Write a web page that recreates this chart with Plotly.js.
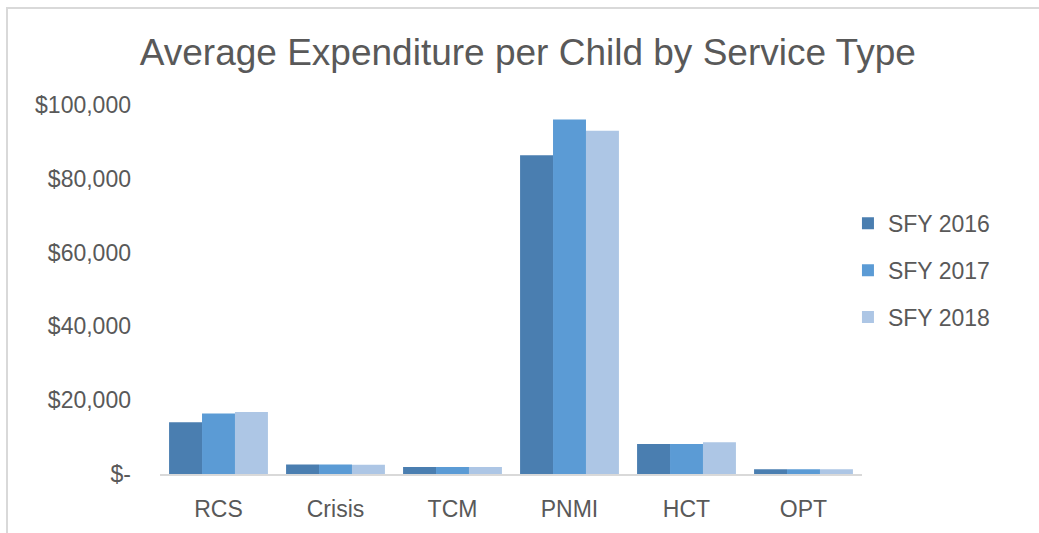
<!DOCTYPE html>
<html>
<head>
<meta charset="utf-8">
<script src="https://cdn.plot.ly/plotly-3.0.1.min.js"></script>
<style>
  html, body { margin: 0; padding: 0; overflow: hidden; background: #fff; }
  #chart { position: absolute; left: 0; top: 0; width: 1039px; height: 533px; }
  #frame { position: absolute; left: 6px; top: 7px; width: 2000px; height: 2000px;
           border-left: 2px solid #d9d9d9; border-top: 2px solid #d9d9d9; pointer-events: none; }
</style>
</head>
<body>
<div id="chart"></div>
<div id="frame"></div>
<script>
const categories = ["RCS", "Crisis", "TCM", "PNMI", "HCT", "OPT"];
const seriesNames = ["SFY 2016", "SFY 2017", "SFY 2018"];
const sfy2016 = [14000, 2600, 1900, 86400, 8100, 1300];
const sfy2017 = [16400, 2600, 1900, 96100, 8100, 1300];
const sfy2018 = [16800, 2500, 1900, 93000, 8600, 1300];
const colors = ["#4a7eb0", "#5b9bd5", "#adc6e5"];
const tickVals = [0, 20000, 40000, 60000, 80000, 100000];
const tickText = ["$-", "$20,000", "$40,000", "$60,000", "$80,000", "$100,000"];

const values = [sfy2016, sfy2017, sfy2018];
const traces = seriesNames.map((name, i) => ({
  type: "bar",
  name: name,
  x: categories,
  y: values[i],
  legendgroup: "g" + i,
  marker: { color: colors[i], line: { width: 0 } },
  hoverinfo: "x+y+name"
}));

const font = { family: "Liberation Sans, Arial, sans-serif", color: "#595959" };

const layout = {
  width: 1039,
  height: 533,
  margin: { l: 160, r: 177, t: 105, b: 59 },
  paper_bgcolor: "#ffffff",
  plot_bgcolor: "#ffffff",
  font: font,
  barmode: "group",
  bargap: 0.155,
  bargroupgap: 0,
  title: {
    text: "Average Expenditure per Child by Service Type",
    font: { family: font.family, color: "#595959", size: 37 },
    xref: "container", yref: "container",
    x: 0.508, xanchor: "center",
    y: 0.902, yanchor: "middle"
  },
  xaxis: {
    type: "category",
    showline: true,
    linecolor: "#d9d9d9",
    linewidth: 2,
    showgrid: false,
    zeroline: false,
    ticks: "",
    ticklabelstandoff: 13,
    tickfont: { family: font.family, color: "#595959", size: 23 }
  },
  yaxis: {
    range: [0, 100000],
    tickvals: tickVals,
    ticktext: tickText,
    showgrid: false,
    zeroline: false,
    showline: false,
    ticks: "",
    ticklabelstandoff: 28,
    tickfont: { family: font.family, color: "#595959", size: 23 }
  },
  showlegend: true,
  legend: {
    x: 0.98, xanchor: "left",
    y: 0.552, yanchor: "middle",
    traceorder: "grouped",
    tracegroupgap: 14,
    itemwidth: 30,
    font: { family: font.family, color: "#595959", size: 23 },
    bgcolor: "rgba(0,0,0,0)"
  }
};

Plotly.newPlot("chart", traces, layout, { displayModeBar: false, staticPlot: true });
</script>
</body>
</html>
